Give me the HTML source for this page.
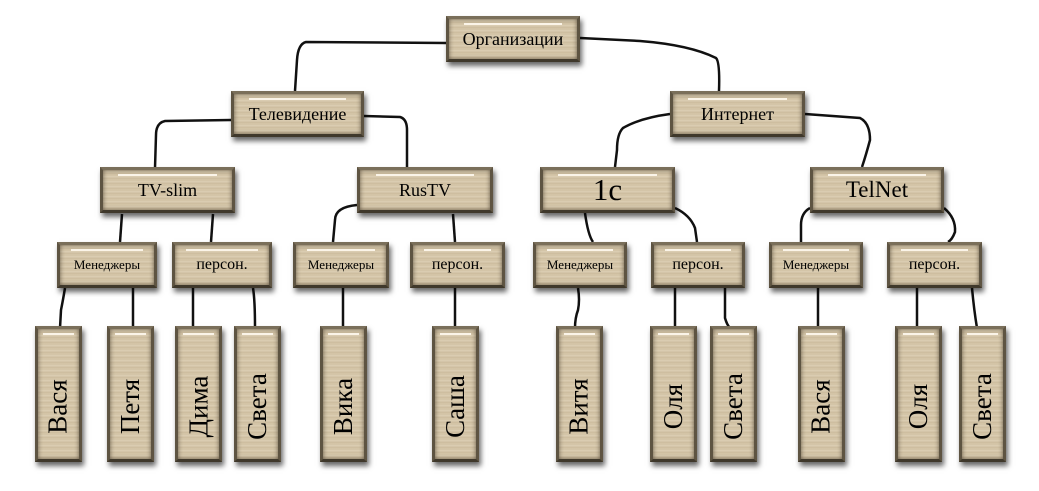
<!DOCTYPE html>
<html><head><meta charset="utf-8"><style>
body{margin:0;width:1039px;height:491px;background:#fff;position:relative;overflow:hidden;font-family:"Liberation Serif",serif;}
.b{position:absolute;box-sizing:border-box;border:3px solid #5e5442;border-top-color:#7a6f5a;border-bottom-color:#3f382b;
background:repeating-linear-gradient(0deg,#d6c7aa 0px,#cbbb9d 2px,#ddd0b5 3px,#d1c2a4 5px);
box-shadow:2px 4px 5px rgba(0,0,0,.6), inset 0 0 5px rgba(50,40,25,.7);
display:flex;align-items:center;justify-content:center;color:#000;}
.b::before{content:"";position:absolute;left:12%;right:12%;top:4px;height:2px;background:#fffaf0;opacity:.9;}
.h{height:46px;font-size:18px;}
.m{height:46px;font-size:14px;}
.l{width:47px;height:136px;}
.l span{transform:rotate(-90deg);white-space:nowrap;font-size:27px;display:block;margin-top:24px;}
svg{position:absolute;left:0;top:0;}
</style></head><body>
<svg width="1039" height="491"><g fill="none" stroke="#111" stroke-width="2.5">
<path d="M446,43 L306,42 Q298,44 297,60 L295,91"/>
<path d="M580,38 L640,41 Q690,45 716,58 Q720,62 719,91"/>
<path d="M364,116 L400,117 Q407,119 407,130 L407,168"/>
<path d="M231,120 L165,121 Q156,123 156,135 L155,168"/>
<path d="M670,114 Q640,118 623,128 Q617,134 617,150 L615,167"/>
<path d="M805,114 L860,118 Q870,123 870,140 Q866,155 862,167"/>
<path d="M122,214 L120,242"/><path d="M213,214 L211,242"/>
<path d="M357,205 Q335,207 335,220 L333,242"/><path d="M453,214 L455,242"/>
<path d="M585,213 Q588,235 593,242"/><path d="M675,208 Q690,215 695,228 L697,242"/>
<path d="M810,208 Q801,213 801,225 L801,242"/><path d="M944,208 Q956,218 955,232 Q952,240 948,242"/>
<path d="M65,288 Q63,300 61,310 L60,328"/><path d="M133,288 L133,328"/>
<path d="M193,288 L193,328"/><path d="M253,288 Q255,300 255,328"/>
<path d="M343,288 L343,328"/><path d="M455,288 L455,328"/>
<path d="M578,288 Q580,300 578,310 Q575,318 575,328"/>
<path d="M675,288 L675,328"/><path d="M725,288 L725,318 Q727,325 730,328"/>
<path d="M818,288 L818,328"/><path d="M917,288 L917,328"/><path d="M972,288 Q974,310 977,328"/>
</g></svg>
<div class="b h" style="left:446px;top:16px;width:134px;">Организации</div>
<div class="b h" style="left:231px;top:91px;width:133px;">Телевидение</div>
<div class="b h" style="left:670px;top:91px;width:135px;">Интернет</div>
<div class="b h" style="left:100px;top:167px;width:135px;">TV-slim</div>
<div class="b h" style="left:357px;top:167px;width:136px;">RusTV</div>
<div class="b h" style="left:540px;top:167px;width:135px;font-size:31px;">1c</div>
<div class="b h" style="left:810px;top:167px;width:134px;font-size:23px;">TelNet</div>
<div class="b m" style="left:57px;top:242px;width:100px;font-size:13px;">Менеджеры</div>
<div class="b m" style="left:172px;top:242px;width:100px;font-size:16px;">персон.</div>
<div class="b m" style="left:293px;top:242px;width:96px;font-size:13px;">Менеджеры</div>
<div class="b m" style="left:410px;top:242px;width:95px;font-size:16px;">персон.</div>
<div class="b m" style="left:533px;top:242px;width:94px;font-size:13px;">Менеджеры</div>
<div class="b m" style="left:651px;top:242px;width:94px;font-size:16px;">персон.</div>
<div class="b m" style="left:769px;top:242px;width:94px;font-size:13px;">Менеджеры</div>
<div class="b m" style="left:887px;top:242px;width:95px;font-size:16px;">персон.</div>
<div class="b l" style="left:35px;top:326px;"><span>Вася</span></div>
<div class="b l" style="left:107px;top:326px;"><span>Петя</span></div>
<div class="b l" style="left:175px;top:326px;"><span>Дима</span></div>
<div class="b l" style="left:234px;top:326px;"><span>Света</span></div>
<div class="b l" style="left:320px;top:326px;"><span>Вика</span></div>
<div class="b l" style="left:432px;top:326px;"><span>Саша</span></div>
<div class="b l" style="left:556px;top:326px;"><span>Витя</span></div>
<div class="b l" style="left:650px;top:326px;"><span>Оля</span></div>
<div class="b l" style="left:710px;top:326px;"><span>Света</span></div>
<div class="b l" style="left:798px;top:326px;"><span>Вася</span></div>
<div class="b l" style="left:895px;top:326px;"><span>Оля</span></div>
<div class="b l" style="left:959px;top:326px;"><span>Света</span></div>
</body></html>
